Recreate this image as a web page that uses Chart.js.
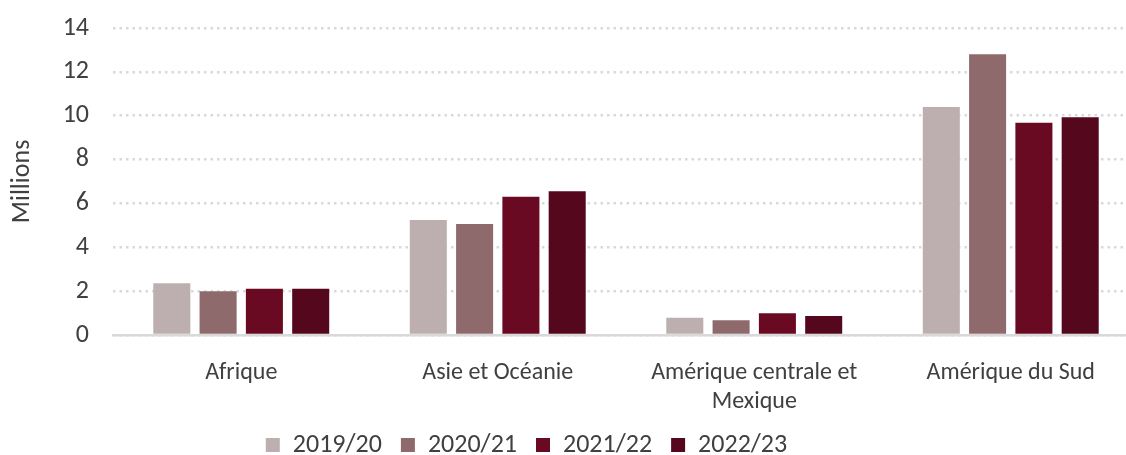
<!DOCTYPE html>
<html>
<head>
<meta charset="utf-8">
<script src="https://cdn.jsdelivr.net/npm/chart.js@4.4.0/dist/chart.umd.min.js"></script>
<style>
  html, body { margin: 0; padding: 0; background: #fff; overflow: hidden; }
  #wrap { position: relative; width: 1140px; height: 455px; }
</style>
</head>
<body>
<div id="wrap"><canvas id="chart"></canvas></div>
<script>
// categories and values (millions)
var regions = ['Afrique', 'Asie et Océanie', ['Amérique centrale et', 'Mexique'], 'Amérique du Sud'];
var seasons = ['2019/20', '2020/21', '2021/22', '2022/23'];
var v2019 = [2.36, 5.24, 0.79, 10.4];
var v2020 = [2.0, 5.06, 0.67, 12.8];
var v2021 = [2.11, 6.31, 0.99, 9.68];
var v2022 = [2.11, 6.55, 0.87, 9.93];
var yTicks = [0, 2, 4, 6, 8, 10, 12, 14];

var colors = ['#BDAFAF', '#8F6A6D', '#690A22', '#55081D'];
var fontFam = 'Calibri, Carlito, Lato, sans-serif';
var txt = '#404040';

// legend sits left of the canvas centre in the original
var moveLegend = {
	id: 'moveLegend',
	afterLayout: function(chart) {
		var lg = chart.legend;
		lg.left -= 43; lg.right -= 43;
		lg.top -= 7; lg.bottom -= 7;
	}
};

var chartdata = {
	labels: regions,
	datasets: [
		{ label: seasons[0], data: v2019, backgroundColor: colors[0] },
		{ label: seasons[1], data: v2020, backgroundColor: colors[1] },
		{ label: seasons[2], data: v2021, backgroundColor: colors[2] },
		{ label: seasons[3], data: v2022, backgroundColor: colors[3] }
	]
};

var ctx = document.getElementById('chart');
var barGraph = new Chart(ctx, {
	type: 'bar',
	data: chartdata,
	plugins: [moveLegend],
	options: {
		responsive: true,
		maintainAspectRatio: false,
		animation: false,
		devicePixelRatio: 1,
		layout: { padding: { top: 28, right: 1, left: 0, bottom: -20 } },
		datasets: { bar: { categoryPercentage: 0.722, barPercentage: 0.80 } },
		plugins: {
			tooltip: { enabled: false },
			legend: {
				position: 'bottom',
				labels: {
					boxWidth: 14, boxHeight: 14, padding: 19,
					color: txt,
					font: { family: fontFam, size: 26 }
				}
			}
		},
		scales: {
			x: {
				afterFit: function(s) { s.height = 85; },
				grid: { display: false, drawTicks: false },
				border: { display: true, color: '#D9D9D9', width: 2.5 },
				ticks: {
					padding: 24, maxRotation: 0, autoSkip: false, color: txt,
					font: { family: fontFam, size: 24, lineHeight: 1.2 }
				}
			},
			y: {
				min: 0, max: 14,
				afterFit: function(s) { s.width = 113; },
				afterBuildTicks: function(s) { s.ticks = yTicks.map(function(v) { return { value: v }; }); },
				grid: { color: '#D9D9D9', lineWidth: 2.5, drawTicks: true, tickLength: 24, tickColor: 'rgba(0,0,0,0)' },
				border: { display: false, dash: [2.5, 4] },
				ticks: { padding: 0, color: txt, font: { family: fontFam, size: 26 } },
				title: {
					display: true, text: 'Millions', color: txt,
					font: { family: fontFam, size: 26 },
					padding: { top: 7, bottom: 0 }
				}
			}
		}
	}
});
</script>
</body>
</html>
